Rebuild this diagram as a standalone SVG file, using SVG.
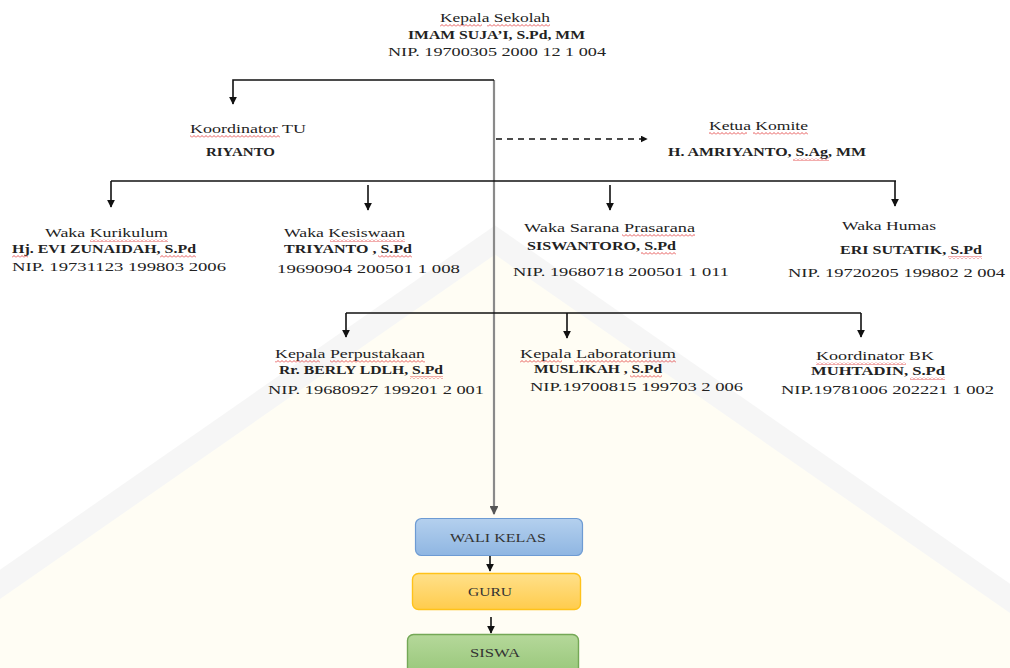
<svg xmlns="http://www.w3.org/2000/svg" width="1010" height="668" viewBox="0 0 1010 668">
<defs>
<style>
.t{font-family:"Liberation Serif","Times New Roman",serif;font-size:13px;fill:#222}
.b{font-family:"Liberation Serif","Times New Roman",serif;font-size:12px;font-weight:bold;fill:#222}
.bx{font-family:"Liberation Serif","Times New Roman",serif;font-size:13px;fill:#333}
.ln{stroke:#111;stroke-width:1.6;fill:none}
.sp{fill:url(#wavy)}
</style>
<marker id="ah" viewBox="0 0 10 10" refX="9" refY="5" markerWidth="5" markerHeight="5" orient="auto" markerUnits="strokeWidth">
<path d="M0,0 L10,5 L0,10 z" fill="#111"/>
</marker>
<marker id="ah2" viewBox="0 0 10 10" refX="9" refY="5" markerWidth="4" markerHeight="4" orient="auto" markerUnits="strokeWidth">
<path d="M0,0 L10,5 L0,10 z" fill="#555"/>
</marker>
<pattern id="wavy" width="4" height="3" patternUnits="userSpaceOnUse">
<path d="M0,2.5 L2,0.5 L4,2.5" stroke="#e03030" stroke-width="0.8" fill="none"/>
</pattern>
<linearGradient id="gBlue" x1="0" y1="0" x2="0" y2="1"><stop offset="0" stop-color="#b4d0ee"/><stop offset="1" stop-color="#8fb6e2"/></linearGradient>
<linearGradient id="gYel" x1="0" y1="0" x2="0" y2="1"><stop offset="0" stop-color="#ffe08a"/><stop offset="1" stop-color="#ffcc4d"/></linearGradient>
<linearGradient id="gGrn" x1="0" y1="0" x2="0" y2="1"><stop offset="0" stop-color="#b5d89a"/><stop offset="1" stop-color="#98c77a"/></linearGradient>
</defs>
<rect width="1010" height="668" fill="#ffffff"/>
<g id="watermark" opacity="0.55">
<path d="M-120,668 L495,240 L1110,668 Z" fill="#fffdec"/>
<path d="M-120,668 L495,240 L1110,668" fill="none" stroke="#f0f0f0" stroke-width="24"/>
</g>

<g id="connectors">
<line x1="494" y1="80" x2="494" y2="514" stroke="#8a8a8a" stroke-width="2.2" marker-end="url(#ah2)"/>
<polyline class="ln" points="494,80 233,80 233,104" marker-end="url(#ah)"/>
<line x1="496" y1="139" x2="647" y2="139" stroke="#111" stroke-width="1.4" stroke-dasharray="6,5" marker-end="url(#ah)"/>
<line class="ln" x1="111" y1="181" x2="896" y2="181"/>
<line class="ln" x1="111" y1="181" x2="111" y2="207" marker-end="url(#ah)"/>
<line class="ln" x1="368" y1="185" x2="368" y2="210" marker-end="url(#ah)"/>
<line class="ln" x1="610" y1="185" x2="610" y2="210" marker-end="url(#ah)"/>
<line class="ln" x1="895" y1="181" x2="895" y2="206" marker-end="url(#ah)"/>
<line class="ln" x1="346" y1="313" x2="861" y2="313"/>
<line class="ln" x1="346" y1="313" x2="346" y2="337" marker-end="url(#ah)"/>
<line class="ln" x1="567" y1="313" x2="567" y2="338" marker-end="url(#ah)"/>
<line class="ln" x1="861" y1="313" x2="861" y2="337" marker-end="url(#ah)"/>
<line class="ln" x1="490" y1="556" x2="490" y2="571" marker-end="url(#ah)"/>
<line class="ln" x1="491" y1="617" x2="491" y2="633" marker-end="url(#ah)"/>
</g>

<g id="kepala-sekolah">
<text class="t" x="440" y="22" textLength="110" lengthAdjust="spacingAndGlyphs">Kepala Sekolah</text>
<text class="b" x="408" y="39" textLength="177" lengthAdjust="spacingAndGlyphs">IMAM SUJA’I, S.Pd, MM</text>
<text class="t" x="388" y="56" textLength="218" lengthAdjust="spacingAndGlyphs">NIP. 19700305  2000 12  1 004</text>
<rect class="sp" x="440" y="24" width="42" height="3"/><rect class="sp" x="487" y="24" width="63" height="3"/>
</g>

<g id="koordinator-tu">
<text class="t" x="190" y="133" textLength="116" lengthAdjust="spacingAndGlyphs">Koordinator TU</text>
<text class="b" x="206" y="156" textLength="69" lengthAdjust="spacingAndGlyphs">RIYANTO</text>
<rect class="sp" x="190" y="135" width="90" height="3"/>
</g>

<g id="ketua-komite">
<text class="t" x="709" y="130" textLength="99" lengthAdjust="spacingAndGlyphs">Ketua Komite</text>
<text class="b" x="668" y="156" textLength="198" lengthAdjust="spacingAndGlyphs">H. AMRIYANTO, S.Ag, MM</text>
<rect class="sp" x="709" y="132" width="38" height="3"/><rect class="sp" x="753" y="132" width="55" height="3"/>
<rect class="sp" x="793" y="158" width="36" height="3"/>
</g>

<g id="waka-kurikulum">
<text class="t" x="45" y="237" textLength="123" lengthAdjust="spacingAndGlyphs">Waka Kurikulum</text>
<text class="b" x="12" y="253" textLength="184" lengthAdjust="spacingAndGlyphs">Hj. EVI ZUNAIDAH,  S.Pd</text>
<text class="t" x="12" y="271" textLength="214" lengthAdjust="spacingAndGlyphs">NIP. 19731123  199803 2006</text>
<rect class="sp" x="90" y="239" width="78" height="3"/>
<rect class="sp" x="12" y="255" width="16" height="3"/><rect class="sp" x="160" y="255" width="36" height="3"/>
</g>

<g id="waka-kesiswaan">
<text class="t" x="284" y="237" textLength="121" lengthAdjust="spacingAndGlyphs">Waka Kesiswaan</text>
<text class="b" x="284" y="253" textLength="128" lengthAdjust="spacingAndGlyphs">TRIYANTO , S.Pd</text>
<text class="t" x="277" y="273" textLength="183" lengthAdjust="spacingAndGlyphs">19690904 200501 1 008</text>
<rect class="sp" x="330" y="239" width="75" height="3"/><rect class="sp" x="378" y="255" width="34" height="3"/>
</g>

<g id="waka-sarpras">
<text class="t" x="524" y="232" textLength="171" lengthAdjust="spacingAndGlyphs">Waka Sarana  Prasarana</text>
<text class="b" x="527" y="250" textLength="149" lengthAdjust="spacingAndGlyphs">SISWANTORO, S.Pd</text>
<text class="t" x="513" y="276" textLength="216" lengthAdjust="spacingAndGlyphs">NIP. 19680718  200501 1 011</text>
<rect class="sp" x="622" y="234" width="73" height="3"/><rect class="sp" x="641" y="252" width="35" height="3"/>
</g>

<g id="waka-humas">
<text class="t" x="842" y="230" textLength="94" lengthAdjust="spacingAndGlyphs">Waka Humas</text>
<text class="b" x="840" y="254" textLength="142" lengthAdjust="spacingAndGlyphs">ERI SUTATIK, S.Pd</text>
<text class="t" x="788" y="277" textLength="217" lengthAdjust="spacingAndGlyphs">NIP. 19720205  199802 2 004</text>
<rect class="sp" x="948" y="256" width="34" height="3"/>
</g>

<g id="kepala-perpustakaan">
<text class="t" x="275" y="358" textLength="150" lengthAdjust="spacingAndGlyphs">Kepala  Perpustakaan</text>
<text class="b" x="279" y="374" textLength="164" lengthAdjust="spacingAndGlyphs">Rr. BERLY LDLH, S.Pd</text>
<text class="t" x="268" y="394" textLength="216" lengthAdjust="spacingAndGlyphs">NIP. 19680927  199201 2 001</text>
<rect class="sp" x="275" y="360" width="45" height="3"/><rect class="sp" x="330" y="360" width="95" height="3"/>
<rect class="sp" x="410" y="376" width="33" height="3"/>
</g>

<g id="kepala-laboratorium">
<text class="t" x="520" y="358" textLength="156" lengthAdjust="spacingAndGlyphs">Kepala  Laboratorium</text>
<text class="b" x="534" y="373" textLength="128" lengthAdjust="spacingAndGlyphs">MUSLIKAH , S.Pd</text>
<text class="t" x="530" y="391" textLength="213" lengthAdjust="spacingAndGlyphs">NIP.19700815  199703 2 006</text>
<rect class="sp" x="520" y="360" width="42" height="3"/><rect class="sp" x="574" y="360" width="102" height="3"/>
<rect class="sp" x="630" y="375" width="32" height="3"/>
</g>

<g id="koordinator-bk">
<text class="t" x="816" y="360" textLength="118" lengthAdjust="spacingAndGlyphs">Koordinator BK</text>
<text class="b" x="811" y="375" textLength="134" lengthAdjust="spacingAndGlyphs">MUHTADIN,  S.Pd</text>
<text class="t" x="781" y="394" textLength="213" lengthAdjust="spacingAndGlyphs">NIP.19781006  202221 1 002</text>
<rect class="sp" x="816" y="362" width="90" height="3"/><rect class="sp" x="910" y="377" width="35" height="3"/>
</g>

<g id="wali-kelas">
<rect x="415.5" y="518.5" width="167" height="37" rx="6" fill="url(#gBlue)" stroke="#6d9bd3" stroke-width="1.2"/>
<text class="bx" x="498" y="542" text-anchor="middle" textLength="96" lengthAdjust="spacingAndGlyphs">WALI  KELAS</text>
</g>
<g id="guru">
<rect x="412.5" y="573.5" width="168" height="36" rx="6" fill="url(#gYel)" stroke="#ffc21a" stroke-width="1.4"/>
<text class="bx" x="490" y="596" text-anchor="middle" textLength="44" lengthAdjust="spacingAndGlyphs">GURU</text>
</g>
<g id="siswa">
<rect x="407.5" y="634.5" width="171" height="40" rx="6" fill="url(#gGrn)" stroke="#74a856" stroke-width="1.4"/>
<text class="bx" x="495" y="657" text-anchor="middle" textLength="50" lengthAdjust="spacingAndGlyphs">SISWA</text>
</g>
</svg>
